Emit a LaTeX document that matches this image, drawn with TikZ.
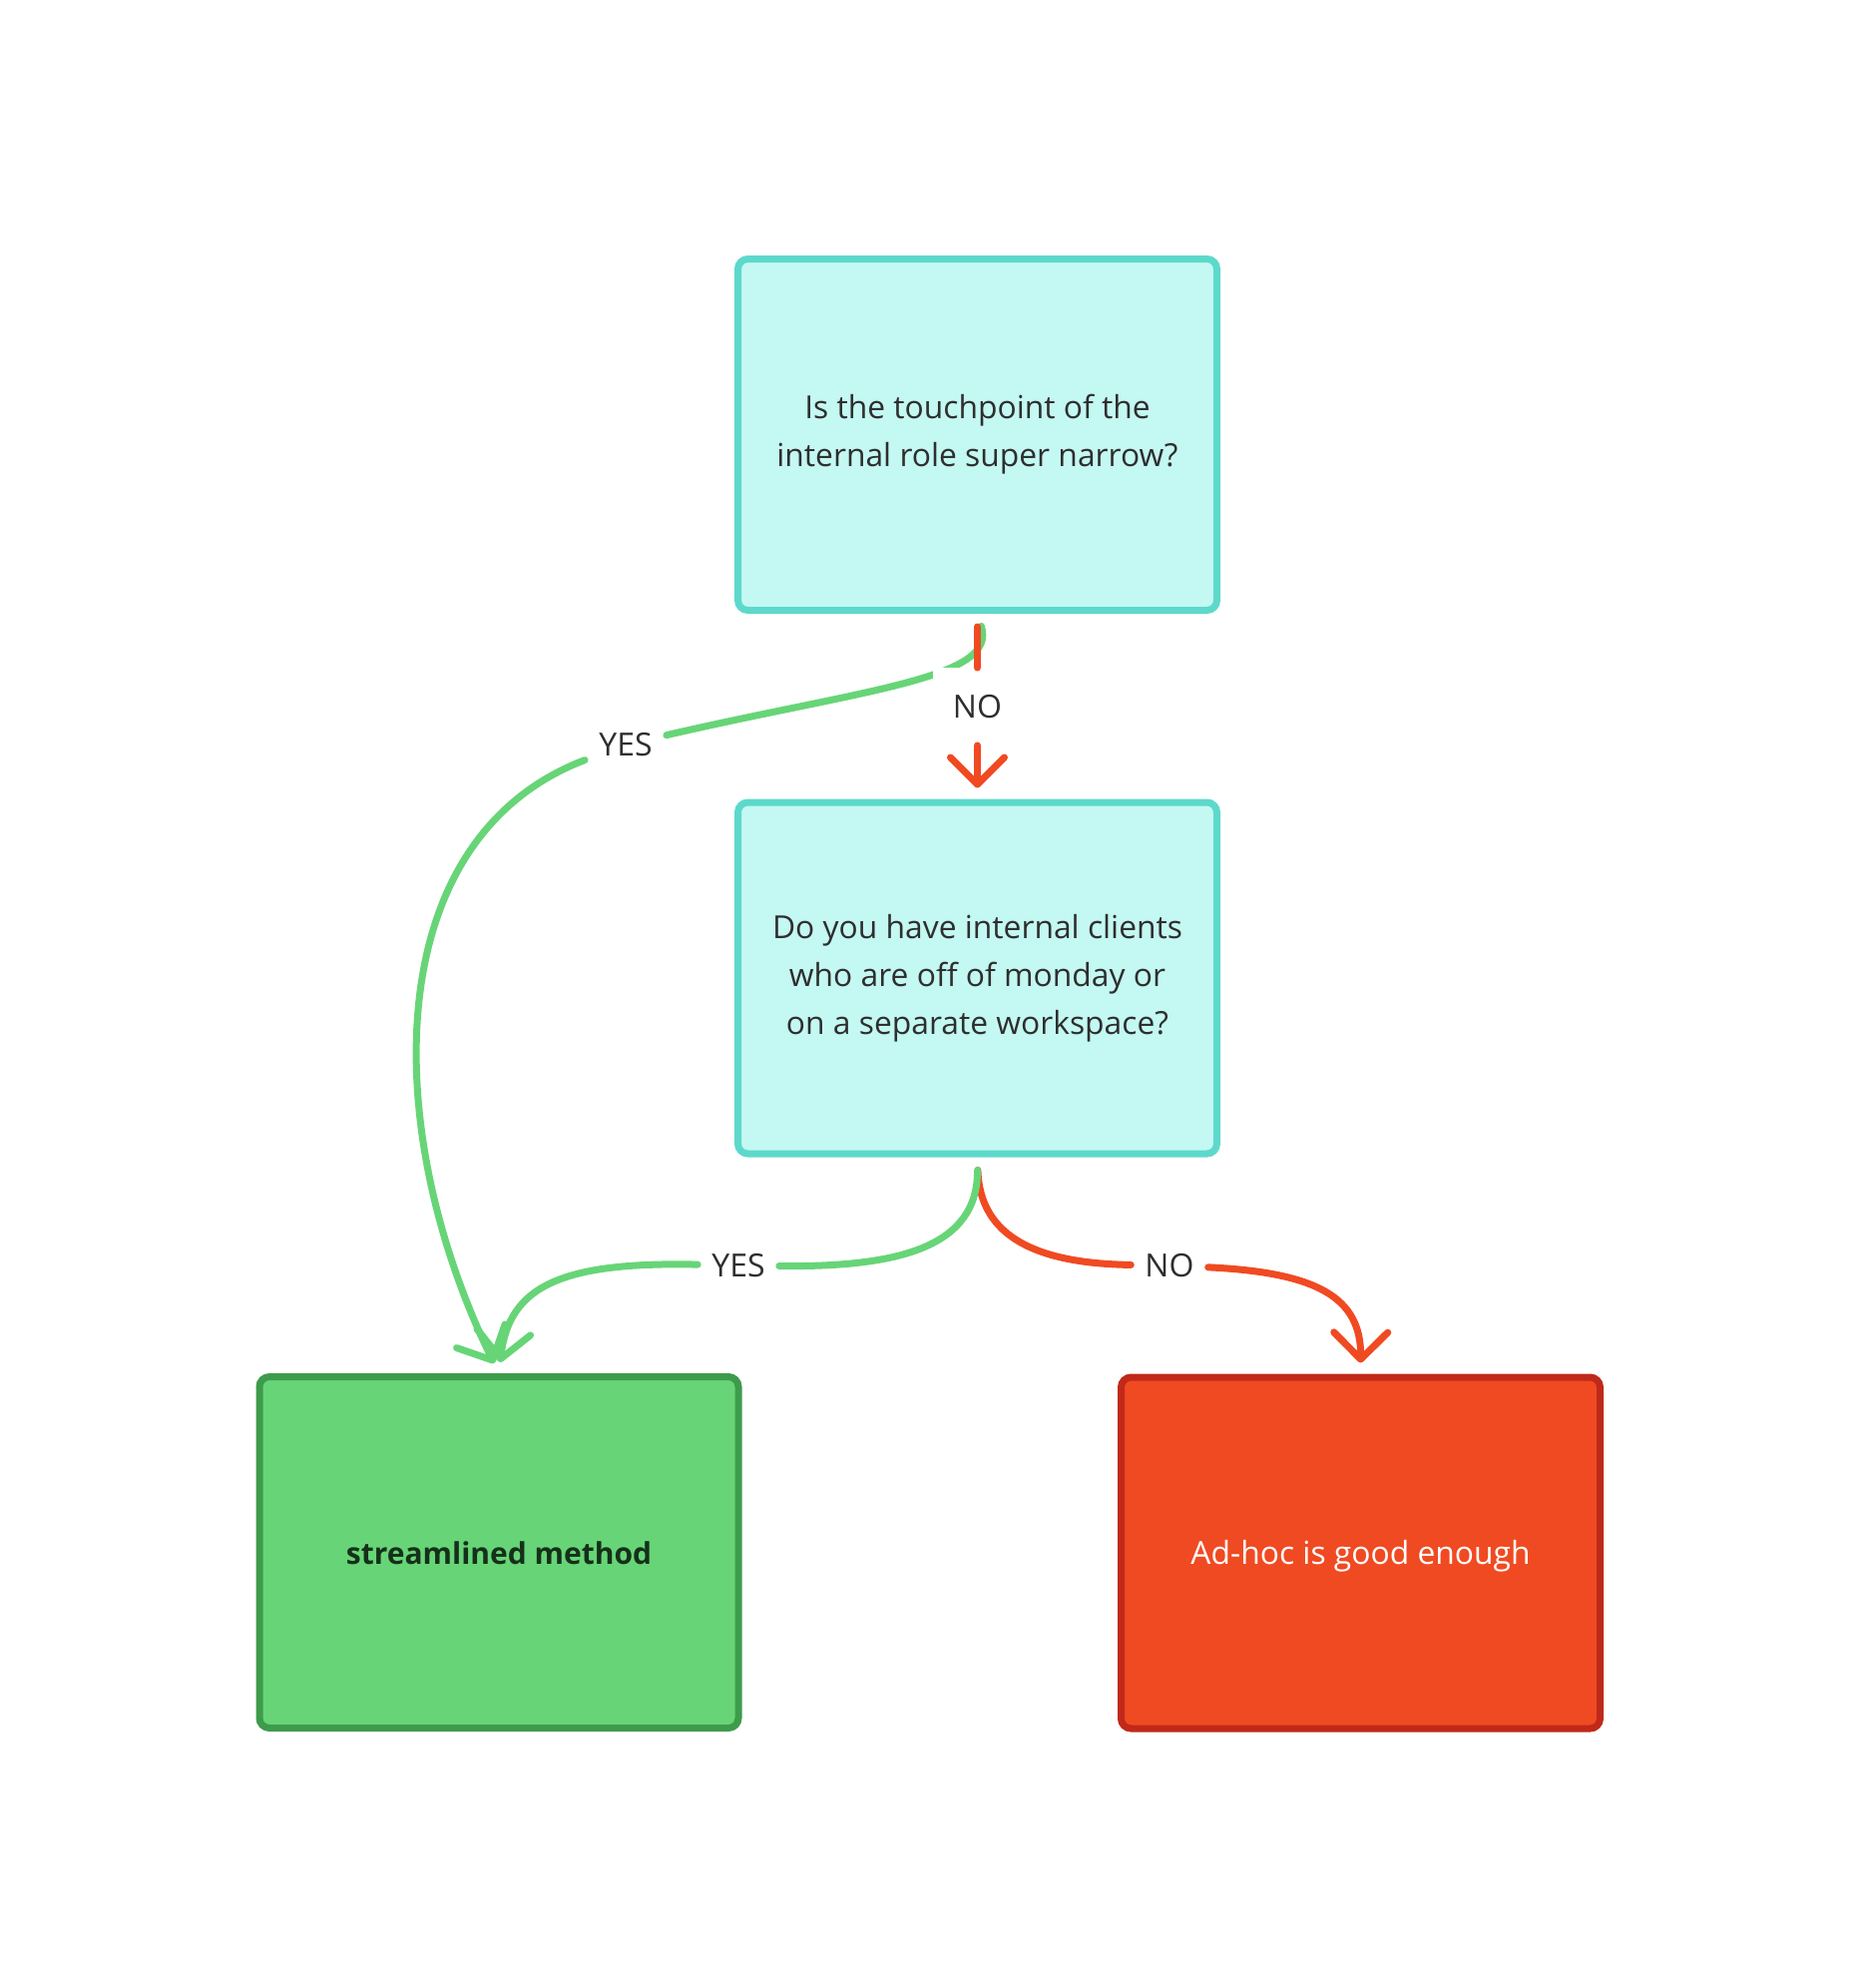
\documentclass[tikz,border=0pt]{standalone}
\usepackage{fontspec}
\setmainfont{Open Sans}
\usetikzlibrary{arrows.meta}
\definecolor{qfill}{HTML}{C4F8F2}
\definecolor{qdraw}{HTML}{5DD9CB}
\definecolor{yesfill}{HTML}{67D577}
\definecolor{yesdraw}{HTML}{3E9B4C}
\definecolor{nofill}{HTML}{F04A22}
\definecolor{nodraw}{HTML}{C0291A}
\definecolor{ink}{HTML}{2E2E2E}
\definecolor{darkink}{HTML}{15301A}
\begin{document}
\begin{tikzpicture}[x=1pt,y=-1pt,
        box/.style={rectangle,rounded corners=10pt,line width=7pt,
            minimum width=480pt,minimum height=352pt,align=center,
            font=\fontsize{31.8}{48}\selectfont,text=ink,
            execute at begin node=\rule{0pt}{31pt},
            execute at end node=\rule[-7pt]{0pt}{0pt}},
        question/.style={box,draw=qdraw,fill=qfill,
            execute at begin node=\rule{0pt}{50pt}},
        lbl/.style={font=\fontsize{32}{47}\selectfont,text=ink,
            inner xsep=14pt,inner ysep=10pt},
        wire/.style={line width=7pt,line cap=round},
        leave/.style={shorten <=13pt},
        tip/.style={-{Straight Barb[length=27pt,width=54pt,round]},shorten >=11pt},
        yesline/.style={wire,draw=yesfill},
        noline/.style={wire,draw=nofill}]
            \useasboundingbox (0,0) rectangle (1864,1992);
            \node[question] (q1) at (979.5,435.5)
                {Is the touchpoint of the\\internal role super narrow?};
            \node[question] (q2) at (979.5,980)
                {Do you have internal clients\\who are off of monday or\\on a separate workspace?};
            \node[box,draw=yesdraw,fill=yesfill,text=darkink,
                font=\fontsize{30}{47}\selectfont\bfseries] (done) at (500,1555.5)
                {streamlined method};
            \node[box,draw=nodraw,fill=nofill,text=white] (adhoc) at (1363.5,1556)
                {Ad-hoc is good enough};
            \node[lbl] (yes1) at (627,746) {YES};
            \node[lbl] (yes2) at (740,1268) {YES};
            \node[lbl] (no2) at (1172,1268) {NO};
            % first question
            \draw[yesline,leave] (q1.south) .. controls (1000,680) and (870,690) .. (yes1);
            \draw[yesline,tip] (yes1) .. controls (380,840) and (380,1130) .. (done.north);
            \node[lbl,fill=white,inner xsep=20pt,inner ysep=27pt] (no1) at (979.5,708) {NO};
            \draw[noline,leave] (q1.south) -- (no1);
            \draw[noline,tip] (no1) -- (q2.north);
            % second question
            \draw[noline,leave] (q2.south) .. controls (982,1240) and (1040,1266) .. (no2);
            \draw[noline,tip] (no2) .. controls (1320,1275) and (1364,1300) .. (adhoc.north);
            \draw[yesline,leave] (q2.south) .. controls (980,1250) and (900,1270) .. (yes2);
            \draw[yesline,tip] (yes2) .. controls (560,1264) and (510,1290) .. (done.north);
        \end{tikzpicture}
\end{document}
